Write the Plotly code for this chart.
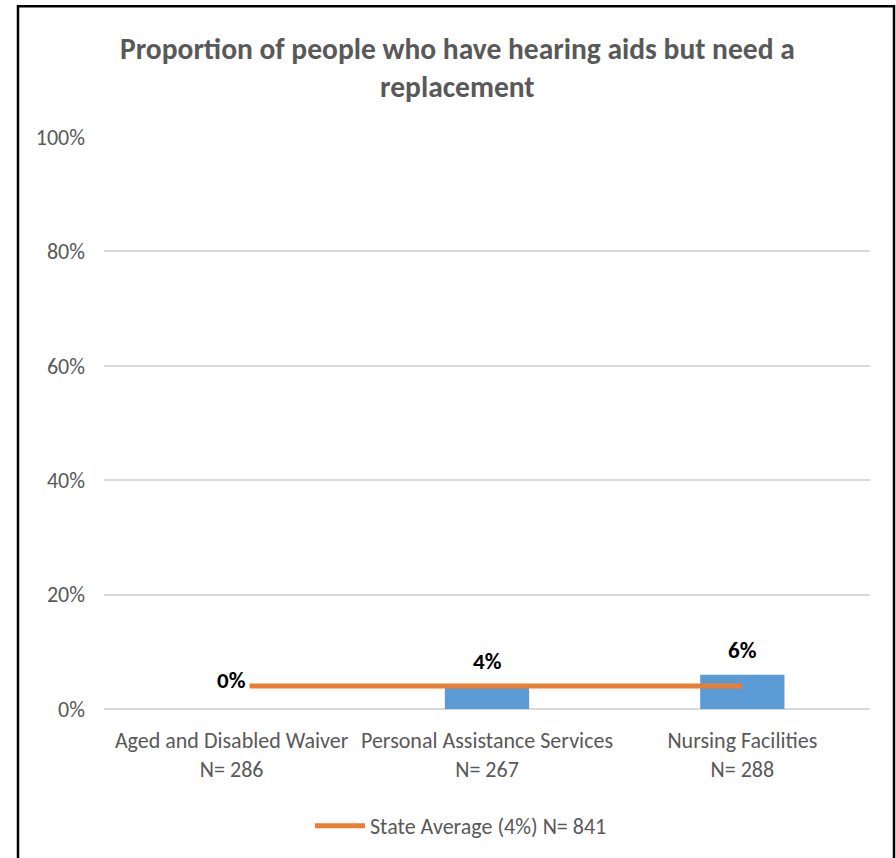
import plotly.graph_objects as go

# Chart data
categories = ["Aged and Disabled Waiver", "Personal Assistance Services", "Nursing Facilities"]
sample_sizes = [286, 267, 288]
shares = [0.00, 0.04, 0.06]
state_average = 0.04
state_n = 841
y_ticks = [0, 0.2, 0.4, 0.6, 0.8, 1.0]

title_text = "Proportion of people who have hearing aids but need a<br>replacement"

BLUE = "#5B9BD5"
ORANGE = "#ED7D31"
GREY_TEXT = "#595959"
GRID = "#D9D9D9"
FONT = "Carlito, Calibri, 'Liberation Sans Narrow', 'Open Sans', sans-serif"

W, H = 896, 858
L, R, T, B = 104, 26, 137, 148
PW, PH = W - L - R, H - T - B

tick_text = [f"{c}<br>N= {n}" for c, n in zip(categories, sample_sizes)]

fig = go.Figure()

fig.add_trace(go.Bar(
    x=tick_text, y=shares, width=0.33,
    marker=dict(color=BLUE, line=dict(width=0)),
    showlegend=False, hoverinfo="skip",
))

fig.add_trace(go.Scatter(
    x=tick_text, y=[state_average] * len(categories),
    mode="lines", line=dict(color=ORANGE, width=5),
    name=f"State Average ({state_average:.0%}) N= {state_n}",
    hoverinfo="skip",
))

# Value labels above each bar
for xv, v in zip(tick_text, shares):
    fig.add_annotation(
        x=xv, y=v, xref="x", yref="y",
        text=f"<b>{v:.0%}</b>", showarrow=False,
        yanchor="bottom", yshift=7 if v > 0 else 11,
        font=dict(family=FONT, size=23, color="#000000"),
        bgcolor="#FFFFFF", borderpad=3,
    )

def px_to_paper_x(px):
    return (px - L) / PW

def px_to_paper_y(py):
    return (H - B - py) / PH

# Title
fig.add_annotation(
    x=px_to_paper_x(457), y=px_to_paper_y(68), xref="paper", yref="paper",
    text=f"<b>{title_text}</b>", showarrow=False,
    xanchor="center", yanchor="middle", align="center",
    font=dict(family=FONT, size=29.5, color=GREY_TEXT),
)

# Outer frame
fig.add_shape(
    type="rect", xref="paper", yref="paper",
    x0=px_to_paper_x(18), x1=px_to_paper_x(894),
    y0=px_to_paper_y(880), y1=px_to_paper_y(6),
    line=dict(color="#000000", width=2.5), fillcolor="rgba(0,0,0,0)",
    layer="above",
)

fig.update_layout(
    width=W, height=H,
    margin=dict(l=L, r=R, t=T, b=B),
    paper_bgcolor="#FFFFFF", plot_bgcolor="#FFFFFF",
    font=dict(family=FONT, color=GREY_TEXT, size=22),
    bargap=0.67,
    legend=dict(
        orientation="h", x=px_to_paper_x(461), xanchor="center",
        y=px_to_paper_y(826), yanchor="middle",
        font=dict(family=FONT, size=22, color=GREY_TEXT),
        itemwidth=50,
    ),
    xaxis=dict(
        showgrid=False, showline=False, zeroline=False,
        tickfont=dict(family=FONT, size=22, color=GREY_TEXT),
        ticklabelstandoff=16,
    ),
    yaxis=dict(
        range=[0, 1], tickvals=y_ticks, tickformat=".0%",
        showgrid=True, gridcolor=GRID, gridwidth=1.5,
        zeroline=True, zerolinecolor=GRID, zerolinewidth=2,
        showline=False,
        tickfont=dict(family=FONT, size=22, color=GREY_TEXT),
        ticklabelstandoff=18,
    ),
)

fig.write_html("out.html")
